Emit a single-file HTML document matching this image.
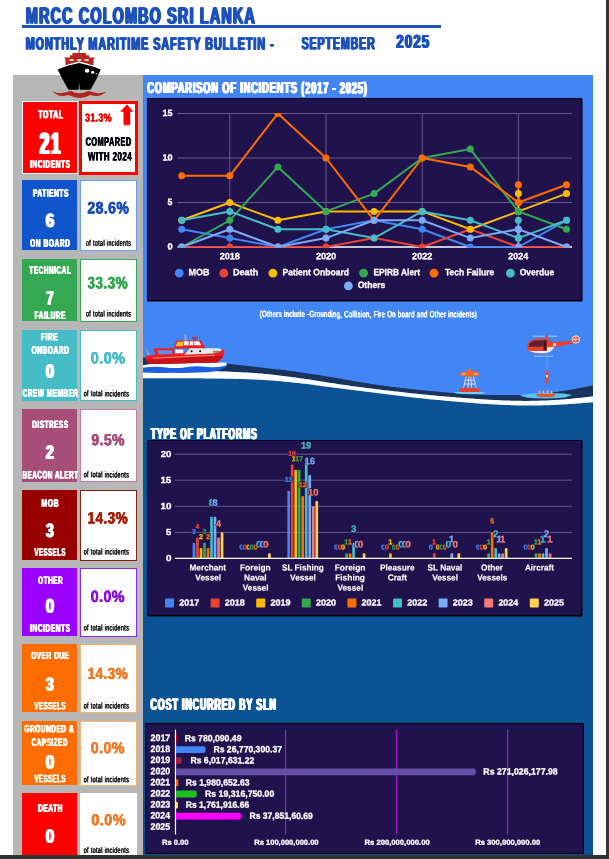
<!DOCTYPE html>
<html lang="en"><head><meta charset="utf-8"><title>MRCC Colombo Sri Lanka - Monthly Maritime Safety Bulletin</title>
<style>
html,body{margin:0;padding:0;background:#fff;}
body{width:609px;height:859px;position:relative;overflow:hidden;font-family:"Liberation Sans",sans-serif;}
.b{position:absolute;box-sizing:border-box;}
.dl{text-shadow:0.7px 0 0 #20124d,-0.7px 0 0 #20124d,0 0.7px 0 #20124d,0 -0.7px 0 #20124d,0.5px 0.5px 0 #20124d,-0.5px -0.5px 0 #20124d,0.5px -0.5px 0 #20124d,-0.5px 0.5px 0 #20124d;}
.t{position:absolute;left:0;top:0;white-space:nowrap;line-height:1;font-weight:700;transform-origin:0 0;}
svg{position:absolute;left:0;top:0;}
svg text{font-family:"Liberation Sans",sans-serif;font-weight:700;}
</style></head><body>
<div class="b" style="left:13.00px;top:75.00px;width:130.00px;height:780.00px;background:#b7b7b7;"></div>
<div class="b" style="left:143.00px;top:75.00px;width:450.00px;height:780.00px;background:#0b5394;"></div>
<div class="b" style="left:143.00px;top:75.00px;width:450.00px;height:320.00px;background:#4285f4;"></div>
<div class="b" style="left:143.00px;top:75.00px;width:450.00px;height:300.00px;background:#4285f4;"></div>
<div class="b" style="left:22.30px;top:25.00px;width:418.50px;height:3.00px;background:#1d52bd;"></div>
<div class="b" style="left:22.20px;top:101.20px;width:56.20px;height:72.80px;background:#ff0000;border:1px solid #fff;"></div>
<div class="b" style="left:79.40px;top:100.70px;width:58.60px;height:74.20px;background:#ffffff;border:3px solid #ff0000;"></div>
<div class="b" style="left:22.00px;top:180.00px;width:55.00px;height:70.00px;background:#1155cc;"></div>
<div class="b" style="left:80.00px;top:180.00px;width:57.00px;height:71.00px;background:#ffffff;border:1px solid #6d9eeb;"></div>
<div class="b" style="left:22.00px;top:258.50px;width:55.00px;height:62.10px;background:#34a853;"></div>
<div class="b" style="left:80.00px;top:258.50px;width:57.00px;height:63.20px;background:#ffffff;border:1px solid #34a853;"></div>
<div class="b" style="left:22.00px;top:330.00px;width:55.00px;height:70.50px;background:#46bdc6;"></div>
<div class="b" style="left:80.00px;top:330.00px;width:57.00px;height:71.00px;background:#ffffff;border:1px solid #46bdc6;"></div>
<div class="b" style="left:22.00px;top:409.20px;width:55.00px;height:72.40px;background:#a64d79;"></div>
<div class="b" style="left:80.00px;top:409.20px;width:57.00px;height:72.80px;background:#ffffff;border:1px solid #c27ba0;"></div>
<div class="b" style="left:22.00px;top:490.00px;width:55.00px;height:69.80px;background:#990000;"></div>
<div class="b" style="left:80.00px;top:490.00px;width:57.00px;height:70.50px;background:#ffffff;border:1px solid #85200c;"></div>
<div class="b" style="left:22.00px;top:568.00px;width:55.00px;height:67.90px;background:#9900ff;"></div>
<div class="b" style="left:80.00px;top:568.00px;width:57.00px;height:69.00px;background:#ffffff;border:1px solid #8e2be2;"></div>
<div class="b" style="left:22.00px;top:644.20px;width:55.00px;height:68.30px;background:#ff6d01;"></div>
<div class="b" style="left:80.00px;top:644.20px;width:57.00px;height:68.80px;background:#ffffff;border:1px solid #f6b26b;"></div>
<div class="b" style="left:22.00px;top:720.80px;width:55.00px;height:64.60px;background:#ff6d01;"></div>
<div class="b" style="left:80.00px;top:720.80px;width:57.00px;height:65.50px;background:#ffffff;border:1px solid #f6b26b;"></div>
<div class="b" style="left:22.00px;top:793.00px;width:55.00px;height:63.00px;background:#ff0000;"></div>
<div class="b" style="left:80.00px;top:793.00px;width:57.00px;height:63.00px;background:#ffffff;border:1px solid #ffffff;"></div>
<div class="b" style="left:146.80px;top:98.30px;width:435.00px;height:202.50px;background:#20124d;border:1px solid #000;border-top-color:#0a0626;border-left-color:#0a0626;box-shadow:0.5px 0.5px 0 #000;"></div>
<div class="b" style="left:146.60px;top:439.80px;width:435.00px;height:176.60px;background:#20124d;border:1px solid #000;border-top-color:#0a0626;border-left-color:#0a0626;box-shadow:0.5px 0.5px 0 #000;"></div>
<div class="b" style="left:144.60px;top:723.00px;width:439.00px;height:130.60px;background:#20124d;border:1px solid #000;"></div>
<svg width="609" height="859" viewBox="0 0 609 859"><polygon fill="#0b5394" points="143.0,378.2 145.0,378.2 147.0,378.2 149.0,378.2 151.0,378.2 153.0,378.2 155.0,378.2 157.0,378.2 159.0,378.2 161.0,378.2 163.0,378.2 165.0,378.2 167.0,378.2 169.0,378.2 171.0,378.2 173.0,378.2 175.0,378.2 177.0,378.2 179.0,378.2 181.0,378.2 183.0,378.2 185.0,378.2 187.0,378.2 189.0,378.2 191.0,378.2 193.0,378.2 195.0,378.3 197.0,378.3 199.0,378.3 201.0,378.3 203.0,378.3 205.0,378.4 207.0,378.4 209.0,378.4 211.0,378.4 213.0,378.5 215.0,378.5 217.0,378.5 219.0,378.6 221.0,378.6 223.0,378.6 225.0,378.7 227.0,378.7 229.0,378.7 231.0,378.8 233.0,378.8 235.0,378.9 237.0,378.9 239.0,378.9 241.0,379.0 243.0,379.0 245.0,379.1 247.0,379.2 249.0,379.2 251.0,379.3 253.0,379.4 255.0,379.5 257.0,379.6 259.0,379.7 261.0,379.8 263.0,379.9 265.0,380.0 267.0,380.2 269.0,380.3 271.0,380.4 273.0,380.6 275.0,380.8 277.0,380.9 279.0,381.1 281.0,381.3 283.0,381.5 285.0,381.7 287.0,381.9 289.0,382.1 291.0,382.3 293.0,382.5 295.0,382.7 297.0,382.9 299.0,383.1 301.0,383.4 303.0,383.6 305.0,383.8 307.0,384.1 309.0,384.3 311.0,384.6 313.0,384.8 315.0,385.1 317.0,385.4 319.0,385.6 321.0,385.9 323.0,386.2 325.0,386.4 327.0,386.7 329.0,387.0 331.0,387.2 333.0,387.5 335.0,387.8 337.0,388.0 339.0,388.3 341.0,388.5 343.0,388.8 345.0,389.0 347.0,389.3 349.0,389.6 351.0,389.8 353.0,390.1 355.0,390.3 357.0,390.5 359.0,390.8 361.0,391.0 363.0,391.3 365.0,391.5 367.0,391.8 369.0,392.0 371.0,392.3 373.0,392.5 375.0,392.8 377.0,393.0 379.0,393.3 381.0,393.5 383.0,393.8 385.0,394.0 387.0,394.3 389.0,394.5 391.0,394.8 393.0,395.0 395.0,395.3 397.0,395.5 399.0,395.8 401.0,396.0 403.0,396.2 405.0,396.5 407.0,396.7 409.0,397.0 411.0,397.2 413.0,397.4 415.0,397.7 417.0,397.9 419.0,398.1 421.0,398.3 423.0,398.5 425.0,398.7 427.0,399.0 429.0,399.2 431.0,399.4 433.0,399.6 435.0,399.7 437.0,399.9 439.0,400.1 441.0,400.3 443.0,400.5 445.0,400.7 447.0,400.9 449.0,401.1 451.0,401.2 453.0,401.4 455.0,401.6 457.0,401.8 459.0,401.9 461.0,402.1 463.0,402.3 465.0,402.5 467.0,402.6 469.0,402.8 471.0,402.9 473.0,403.1 475.0,403.2 477.0,403.4 479.0,403.5 481.0,403.7 483.0,403.8 485.0,403.9 487.0,404.1 489.0,404.2 491.0,404.3 493.0,404.4 495.0,404.5 497.0,404.6 499.0,404.7 501.0,404.8 503.0,404.9 505.0,405.0 507.0,405.1 509.0,405.1 511.0,405.2 513.0,405.3 515.0,405.3 517.0,405.4 519.0,405.4 521.0,405.4 523.0,405.5 525.0,405.5 527.0,405.5 529.0,405.5 531.0,405.5 533.0,405.5 535.0,405.5 537.0,405.5 539.0,405.4 541.0,405.4 543.0,405.3 545.0,405.3 547.0,405.2 549.0,405.2 551.0,405.1 553.0,405.0 555.0,404.9 557.0,404.8 559.0,404.7 561.0,404.6 563.0,404.5 565.0,404.4 567.0,404.2 569.0,404.1 571.0,404.0 573.0,403.8 575.0,403.7 577.0,403.5 579.0,403.4 581.0,403.2 583.0,403.0 585.0,402.9 587.0,402.7 589.0,402.5 591.0,402.4 593.0,402.2 593,412 143,412"/>
<polygon fill="#19335c" points="143.0,357.5 145.0,357.6 147.0,357.7 149.0,357.8 151.0,357.9 153.0,358.0 155.0,358.1 157.0,358.2 159.0,358.3 161.0,358.4 163.0,358.5 165.0,358.6 167.0,358.7 169.0,358.8 171.0,358.9 173.0,359.0 175.0,359.1 177.0,359.2 179.0,359.4 181.0,359.5 183.0,359.6 185.0,359.8 187.0,359.9 189.0,360.1 191.0,360.2 193.0,360.4 195.0,360.6 197.0,360.7 199.0,360.9 201.0,361.1 203.0,361.3 205.0,361.5 207.0,361.7 209.0,361.9 211.0,362.1 213.0,362.3 215.0,362.5 217.0,362.7 219.0,362.9 221.0,363.1 223.0,363.3 225.0,363.5 227.0,363.7 229.0,363.9 231.0,364.1 233.0,364.4 235.0,364.6 237.0,364.8 239.0,365.0 241.0,365.2 243.0,365.5 245.0,365.7 247.0,365.9 249.0,366.1 251.0,366.4 253.0,366.6 255.0,366.8 257.0,367.1 259.0,367.3 261.0,367.5 263.0,367.7 265.0,368.0 267.0,368.2 269.0,368.4 271.0,368.7 273.0,368.9 275.0,369.1 277.0,369.4 279.0,369.6 281.0,369.8 283.0,370.1 285.0,370.3 287.0,370.6 289.0,370.8 291.0,371.1 293.0,371.3 295.0,371.6 297.0,371.9 299.0,372.1 301.0,372.4 303.0,372.7 305.0,373.0 307.0,373.3 309.0,373.6 311.0,373.9 313.0,374.2 315.0,374.5 317.0,374.8 319.0,375.1 321.0,375.4 323.0,375.8 325.0,376.1 327.0,376.4 329.0,376.8 331.0,377.1 333.0,377.4 335.0,377.8 337.0,378.1 339.0,378.5 341.0,378.8 343.0,379.2 345.0,379.5 347.0,379.9 349.0,380.2 351.0,380.6 353.0,380.9 355.0,381.3 357.0,381.6 359.0,382.0 361.0,382.3 363.0,382.7 365.0,383.0 367.0,383.3 369.0,383.6 371.0,383.9 373.0,384.2 375.0,384.5 377.0,384.8 379.0,385.1 381.0,385.4 383.0,385.6 385.0,385.9 387.0,386.1 389.0,386.4 391.0,386.7 393.0,386.9 395.0,387.1 397.0,387.4 399.0,387.6 401.0,387.9 403.0,388.1 405.0,388.3 407.0,388.6 409.0,388.8 411.0,389.0 413.0,389.3 415.0,389.5 417.0,389.7 419.0,389.9 421.0,390.1 423.0,390.3 425.0,390.5 427.0,390.7 429.0,390.9 431.0,391.1 433.0,391.3 435.0,391.5 437.0,391.6 439.0,391.8 441.0,392.0 443.0,392.2 445.0,392.3 447.0,392.5 449.0,392.7 451.0,392.8 453.0,393.0 455.0,393.2 457.0,393.3 459.0,393.5 461.0,393.6 463.0,393.8 465.0,393.9 467.0,394.0 469.0,394.1 471.0,394.3 473.0,394.4 475.0,394.5 477.0,394.6 479.0,394.7 481.0,394.8 483.0,394.8 485.0,394.9 487.0,395.0 489.0,395.0 491.0,395.1 493.0,395.1 495.0,395.2 497.0,395.2 499.0,395.2 501.0,395.2 503.0,395.2 505.0,395.2 507.0,395.2 509.0,395.2 511.0,395.2 513.0,395.2 515.0,395.1 517.0,395.1 519.0,395.0 521.0,395.0 523.0,394.9 525.0,394.8 527.0,394.7 529.0,394.6 531.0,394.5 533.0,394.3 535.0,394.2 537.0,394.0 539.0,393.9 541.0,393.7 543.0,393.5 545.0,393.3 547.0,393.1 549.0,392.9 551.0,392.7 553.0,392.4 555.0,392.1 557.0,391.9 559.0,391.6 561.0,391.3 563.0,391.0 565.0,390.7 567.0,390.3 569.0,390.0 571.0,389.6 573.0,389.3 575.0,388.9 577.0,388.5 579.0,388.1 581.0,387.8 583.0,387.4 585.0,387.0 587.0,386.6 589.0,386.2 591.0,385.8 593.0,385.4 593.0,396.4 591.0,396.6 589.0,396.8 587.0,397.0 585.0,397.3 583.0,397.5 581.0,397.7 579.0,397.9 577.0,398.1 575.0,398.3 573.0,398.5 571.0,398.7 569.0,398.9 567.0,399.0 565.0,399.2 563.0,399.4 561.0,399.5 559.0,399.7 557.0,399.8 555.0,400.0 553.0,400.1 551.0,400.2 549.0,400.3 547.0,400.4 545.0,400.5 543.0,400.5 541.0,400.6 539.0,400.7 537.0,400.7 535.0,400.8 533.0,400.8 531.0,400.8 529.0,400.9 527.0,400.9 525.0,400.9 523.0,400.9 521.0,400.8 519.0,400.8 517.0,400.8 515.0,400.7 513.0,400.7 511.0,400.7 509.0,400.6 507.0,400.5 505.0,400.5 503.0,400.4 501.0,400.3 499.0,400.2 497.0,400.1 495.0,400.0 493.0,399.9 491.0,399.8 489.0,399.7 487.0,399.6 485.0,399.4 483.0,399.3 481.0,399.2 479.0,399.0 477.0,398.9 475.0,398.8 473.0,398.6 471.0,398.5 469.0,398.3 467.0,398.2 465.0,398.0 463.0,397.9 461.0,397.7 459.0,397.5 457.0,397.4 455.0,397.2 453.0,397.1 451.0,396.9 449.0,396.7 447.0,396.6 445.0,396.4 443.0,396.2 441.0,396.1 439.0,395.9 437.0,395.7 435.0,395.5 433.0,395.3 431.0,395.2 429.0,395.0 427.0,394.8 425.0,394.6 423.0,394.4 421.0,394.2 419.0,394.0 417.0,393.8 415.0,393.6 413.0,393.4 411.0,393.2 409.0,392.9 407.0,392.7 405.0,392.5 403.0,392.3 401.0,392.0 399.0,391.8 397.0,391.6 395.0,391.4 393.0,391.1 391.0,390.9 389.0,390.6 387.0,390.4 385.0,390.2 383.0,389.9 381.0,389.7 379.0,389.5 377.0,389.2 375.0,389.0 373.0,388.7 371.0,388.5 369.0,388.2 367.0,388.0 365.0,387.7 363.0,387.5 361.0,387.2 359.0,386.9 357.0,386.7 355.0,386.4 353.0,386.2 351.0,385.9 349.0,385.6 347.0,385.3 345.0,385.0 343.0,384.8 341.0,384.5 339.0,384.2 337.0,383.9 335.0,383.6 333.0,383.3 331.0,383.0 329.0,382.7 327.0,382.4 325.0,382.0 323.0,381.7 321.0,381.4 319.0,381.1 317.0,380.8 315.0,380.5 313.0,380.2 311.0,379.8 309.0,379.5 307.0,379.2 305.0,378.9 303.0,378.6 301.0,378.4 299.0,378.1 297.0,377.8 295.0,377.5 293.0,377.2 291.0,377.0 289.0,376.7 287.0,376.4 285.0,376.2 283.0,375.9 281.0,375.7 279.0,375.4 277.0,375.2 275.0,375.0 273.0,374.7 271.0,374.5 269.0,374.3 267.0,374.1 265.0,373.9 263.0,373.7 261.0,373.5 259.0,373.4 257.0,373.2 255.0,373.1 253.0,372.9 251.0,372.8 249.0,372.7 247.0,372.6 245.0,372.5 243.0,372.4 241.0,372.3 239.0,372.2 237.0,372.1 235.0,372.0 233.0,371.9 231.0,371.8 229.0,371.7 227.0,371.6 225.0,371.6 223.0,371.5 221.0,371.4 219.0,371.3 217.0,371.2 215.0,371.2 213.0,371.1 211.0,371.0 209.0,371.0 207.0,370.9 205.0,370.9 203.0,370.8 201.0,370.8 199.0,370.7 197.0,370.7 195.0,370.7 193.0,370.6 191.0,370.6 189.0,370.6 187.0,370.6 185.0,370.6 183.0,370.6 181.0,370.6 179.0,370.6 177.0,370.6 175.0,370.6 173.0,370.6 171.0,370.6 169.0,370.6 167.0,370.6 165.0,370.6 163.0,370.6 161.0,370.6 159.0,370.6 157.0,370.7 155.0,370.7 153.0,370.7 151.0,370.7 149.0,370.7 147.0,370.7 145.0,370.7 143.0,370.7"/>
<polygon fill="#ffffff" points="143.0,370.7 145.0,370.7 147.0,370.7 149.0,370.7 151.0,370.7 153.0,370.7 155.0,370.7 157.0,370.7 159.0,370.6 161.0,370.6 163.0,370.6 165.0,370.6 167.0,370.6 169.0,370.6 171.0,370.6 173.0,370.6 175.0,370.6 177.0,370.6 179.0,370.6 181.0,370.6 183.0,370.6 185.0,370.6 187.0,370.6 189.0,370.6 191.0,370.6 193.0,370.6 195.0,370.7 197.0,370.7 199.0,370.7 201.0,370.8 203.0,370.8 205.0,370.9 207.0,370.9 209.0,371.0 211.0,371.0 213.0,371.1 215.0,371.2 217.0,371.2 219.0,371.3 221.0,371.4 223.0,371.5 225.0,371.6 227.0,371.6 229.0,371.7 231.0,371.8 233.0,371.9 235.0,372.0 237.0,372.1 239.0,372.2 241.0,372.3 243.0,372.4 245.0,372.5 247.0,372.6 249.0,372.7 251.0,372.8 253.0,372.9 255.0,373.1 257.0,373.2 259.0,373.4 261.0,373.5 263.0,373.7 265.0,373.9 267.0,374.1 269.0,374.3 271.0,374.5 273.0,374.7 275.0,375.0 277.0,375.2 279.0,375.4 281.0,375.7 283.0,375.9 285.0,376.2 287.0,376.4 289.0,376.7 291.0,377.0 293.0,377.2 295.0,377.5 297.0,377.8 299.0,378.1 301.0,378.4 303.0,378.6 305.0,378.9 307.0,379.2 309.0,379.5 311.0,379.8 313.0,380.2 315.0,380.5 317.0,380.8 319.0,381.1 321.0,381.4 323.0,381.7 325.0,382.0 327.0,382.4 329.0,382.7 331.0,383.0 333.0,383.3 335.0,383.6 337.0,383.9 339.0,384.2 341.0,384.5 343.0,384.8 345.0,385.0 347.0,385.3 349.0,385.6 351.0,385.9 353.0,386.2 355.0,386.4 357.0,386.7 359.0,386.9 361.0,387.2 363.0,387.5 365.0,387.7 367.0,388.0 369.0,388.2 371.0,388.5 373.0,388.7 375.0,389.0 377.0,389.2 379.0,389.5 381.0,389.7 383.0,389.9 385.0,390.2 387.0,390.4 389.0,390.6 391.0,390.9 393.0,391.1 395.0,391.4 397.0,391.6 399.0,391.8 401.0,392.0 403.0,392.3 405.0,392.5 407.0,392.7 409.0,392.9 411.0,393.2 413.0,393.4 415.0,393.6 417.0,393.8 419.0,394.0 421.0,394.2 423.0,394.4 425.0,394.6 427.0,394.8 429.0,395.0 431.0,395.2 433.0,395.3 435.0,395.5 437.0,395.7 439.0,395.9 441.0,396.1 443.0,396.2 445.0,396.4 447.0,396.6 449.0,396.7 451.0,396.9 453.0,397.1 455.0,397.2 457.0,397.4 459.0,397.5 461.0,397.7 463.0,397.9 465.0,398.0 467.0,398.2 469.0,398.3 471.0,398.5 473.0,398.6 475.0,398.8 477.0,398.9 479.0,399.0 481.0,399.2 483.0,399.3 485.0,399.4 487.0,399.6 489.0,399.7 491.0,399.8 493.0,399.9 495.0,400.0 497.0,400.1 499.0,400.2 501.0,400.3 503.0,400.4 505.0,400.5 507.0,400.5 509.0,400.6 511.0,400.7 513.0,400.7 515.0,400.7 517.0,400.8 519.0,400.8 521.0,400.8 523.0,400.9 525.0,400.9 527.0,400.9 529.0,400.9 531.0,400.8 533.0,400.8 535.0,400.8 537.0,400.7 539.0,400.7 541.0,400.6 543.0,400.5 545.0,400.5 547.0,400.4 549.0,400.3 551.0,400.2 553.0,400.1 555.0,400.0 557.0,399.8 559.0,399.7 561.0,399.5 563.0,399.4 565.0,399.2 567.0,399.0 569.0,398.9 571.0,398.7 573.0,398.5 575.0,398.3 577.0,398.1 579.0,397.9 581.0,397.7 583.0,397.5 585.0,397.3 587.0,397.0 589.0,396.8 591.0,396.6 593.0,396.4 593.0,402.2 591.0,402.4 589.0,402.5 587.0,402.7 585.0,402.9 583.0,403.0 581.0,403.2 579.0,403.4 577.0,403.5 575.0,403.7 573.0,403.8 571.0,404.0 569.0,404.1 567.0,404.2 565.0,404.4 563.0,404.5 561.0,404.6 559.0,404.7 557.0,404.8 555.0,404.9 553.0,405.0 551.0,405.1 549.0,405.2 547.0,405.2 545.0,405.3 543.0,405.3 541.0,405.4 539.0,405.4 537.0,405.5 535.0,405.5 533.0,405.5 531.0,405.5 529.0,405.5 527.0,405.5 525.0,405.5 523.0,405.5 521.0,405.4 519.0,405.4 517.0,405.4 515.0,405.3 513.0,405.3 511.0,405.2 509.0,405.1 507.0,405.1 505.0,405.0 503.0,404.9 501.0,404.8 499.0,404.7 497.0,404.6 495.0,404.5 493.0,404.4 491.0,404.3 489.0,404.2 487.0,404.1 485.0,403.9 483.0,403.8 481.0,403.7 479.0,403.5 477.0,403.4 475.0,403.2 473.0,403.1 471.0,402.9 469.0,402.8 467.0,402.6 465.0,402.5 463.0,402.3 461.0,402.1 459.0,401.9 457.0,401.8 455.0,401.6 453.0,401.4 451.0,401.2 449.0,401.1 447.0,400.9 445.0,400.7 443.0,400.5 441.0,400.3 439.0,400.1 437.0,399.9 435.0,399.7 433.0,399.6 431.0,399.4 429.0,399.2 427.0,399.0 425.0,398.7 423.0,398.5 421.0,398.3 419.0,398.1 417.0,397.9 415.0,397.7 413.0,397.4 411.0,397.2 409.0,397.0 407.0,396.7 405.0,396.5 403.0,396.2 401.0,396.0 399.0,395.8 397.0,395.5 395.0,395.3 393.0,395.0 391.0,394.8 389.0,394.5 387.0,394.3 385.0,394.0 383.0,393.8 381.0,393.5 379.0,393.3 377.0,393.0 375.0,392.8 373.0,392.5 371.0,392.3 369.0,392.0 367.0,391.8 365.0,391.5 363.0,391.3 361.0,391.0 359.0,390.8 357.0,390.5 355.0,390.3 353.0,390.1 351.0,389.8 349.0,389.6 347.0,389.3 345.0,389.0 343.0,388.8 341.0,388.5 339.0,388.3 337.0,388.0 335.0,387.8 333.0,387.5 331.0,387.2 329.0,387.0 327.0,386.7 325.0,386.4 323.0,386.2 321.0,385.9 319.0,385.6 317.0,385.4 315.0,385.1 313.0,384.8 311.0,384.6 309.0,384.3 307.0,384.1 305.0,383.8 303.0,383.6 301.0,383.4 299.0,383.1 297.0,382.9 295.0,382.7 293.0,382.5 291.0,382.3 289.0,382.1 287.0,381.9 285.0,381.7 283.0,381.5 281.0,381.3 279.0,381.1 277.0,380.9 275.0,380.8 273.0,380.6 271.0,380.4 269.0,380.3 267.0,380.2 265.0,380.0 263.0,379.9 261.0,379.8 259.0,379.7 257.0,379.6 255.0,379.5 253.0,379.4 251.0,379.3 249.0,379.2 247.0,379.2 245.0,379.1 243.0,379.0 241.0,379.0 239.0,378.9 237.0,378.9 235.0,378.9 233.0,378.8 231.0,378.8 229.0,378.7 227.0,378.7 225.0,378.7 223.0,378.6 221.0,378.6 219.0,378.6 217.0,378.5 215.0,378.5 213.0,378.5 211.0,378.4 209.0,378.4 207.0,378.4 205.0,378.4 203.0,378.3 201.0,378.3 199.0,378.3 197.0,378.3 195.0,378.3 193.0,378.2 191.0,378.2 189.0,378.2 187.0,378.2 185.0,378.2 183.0,378.2 181.0,378.2 179.0,378.2 177.0,378.2 175.0,378.2 173.0,378.2 171.0,378.2 169.0,378.2 167.0,378.2 165.0,378.2 163.0,378.2 161.0,378.2 159.0,378.2 157.0,378.2 155.0,378.2 153.0,378.2 151.0,378.2 149.0,378.2 147.0,378.2 145.0,378.2 143.0,378.2"/>
<!-- top ship icon -->
<g id="ship">
<rect x="78.6" y="49.5" width="1" height="4" fill="#b3261e"/>
<path d="M72.5 53h13.5v2.2h3.2v2.3h5.6l-1.3 2.2v5.3H65.5v-5.3l-1.3-2.2h5.6v-2.3h2.7z" fill="#b3261e"/>
<rect x="69.5" y="59.3" width="4.2" height="1.5" fill="#fff"/><rect x="77" y="59.3" width="4.2" height="1.5" fill="#fff"/><rect x="84.5" y="59.3" width="4.2" height="1.5" fill="#fff"/>
<path d="M57 69.6 Q68 64.6 79.1 62.4 Q90 64.6 101.4 69.6" fill="#fff" stroke="#fff" stroke-width="1.6"/>
<path d="M57.6 69.6 Q68 65 79.1 63 Q90 65 100.8 69.6 Q97 79 90.6 89.8 H68.4 Q62 79 57.6 69.6z" fill="#000"/>
<path d="M79.2 82 L79.8 90 H78.6z" fill="#b7b7b7"/>
<ellipse cx="87.2" cy="70.8" rx="2.3" ry="2" fill="#fff"/><ellipse cx="92.7" cy="72.3" rx="1.7" ry="1.5" fill="#fff"/><circle cx="96.3" cy="73.6" r="0.7" fill="#fff"/>
<path d="M52.5 91.3 q7 3.4 14 0.8 q3 -1.2 4.5 -1.2 q8.5 4.6 17 0 q1.5 0 4.5 1.2 q7 2.6 14 -0.8 q-6 7 -16 3.6 q-10.5 6 -22 0 q-10 3.4 -16 -3.6z" fill="#b3261e"/>
</g>
<!-- up arrow -->
<rect x="123.6" y="124" width="6.6" height="2.2" fill="#ffb3b3"/><path d="M126.9 104.4 L133.4 111.7 H130.2 V124.8 H123.5 V111.7 H120.2z" fill="#ff0000"/>
<!-- rescue boat -->
<g id="boat">
<path d="M143 365 L226 364.5 L225.5 367.4 Q215 372.6 200 372.6 Q185 373.2 170 372.8 Q155 373.4 143 372.6z" fill="#1c5fe0"/>
<path d="M143 365.2 Q150 363.3 160 363.8 L226 362.6 L227 365.3 Q218 368 208 367 Q196 365.6 186 367.2 Q176 368.8 166 367.4 Q154 365.8 143 367.8z" fill="#fff"/>
<path d="M145.3 346.5 L150 354.8 L147.5 355z" fill="#9aa" />
<path d="M146.5 355.5 L224 349.6 Q225 352 224 354.5 Q222 360 216.5 362.5 L151 364 Q146 362.5 145.5 358z" fill="#ee1c24"/>
<path d="M146 359.5 L223 355.5 Q221 360.5 216.5 362.5 L151 364 Q147 363 146 359.5z" fill="#c8101a"/>
<path d="M153 358.2 L215 355.2" stroke="#ffd9a0" stroke-width="0.6" fill="none"/>
<path d="M153.5 348.2 H174 V355 L156 356z" fill="#ee1c24"/>
<path d="M157 350.3 H172 V354 L159 354.6z" fill="#5b8fe8"/>
<path d="M173.5 348.6 L176.5 340.6 H201 L205.5 348.6z" fill="#ee1c24"/>
<path d="M184.3 354.8 L190 348.3 H219 Q222 349.3 222 350.5 L213 353.6z" fill="#e6e6e6"/>
<rect x="175.3" y="349.5" width="8" height="3.8" fill="#f3f3f3"/>
<path d="M175.5 346.3 L177.3 341.7 H183 V346.3z" fill="#f6c12c"/>
<rect x="183.7" y="341.3" width="5" height="4" fill="#fff"/><rect x="189.7" y="341.3" width="3.6" height="4" fill="#fff"/><path d="M194.2 341.3 H199 L201.3 345.3 H194.2z" fill="#fff"/>
<circle cx="191.6" cy="351.3" r="1" fill="#111"/><circle cx="200.1" cy="351.3" r="1" fill="#111"/>
<rect x="213" y="350.8" width="6" height="1.8" fill="#8a8a7a"/>
<path d="M184.2 333.3 L186.8 340.6 H185.2z" fill="#c9d3d8"/><rect x="185.5" y="334" width="0.9" height="6.6" fill="#9aa"/>
<rect x="192" y="337.2" width="6" height="1.3" fill="#d01818"/><rect x="194.5" y="338" width="1" height="2.6" fill="#d01818"/>
</g>
<!-- buoy -->
<g id="buoy">
<ellipse cx="469.8" cy="392.7" rx="15.5" ry="1.5" fill="#6fd0f5"/>
<path d="M459.4 391.9 Q459.4 387.8 463 387.8 H476 Q479.5 387.8 479.5 391.9z" fill="#e8402a"/>
<path d="M463.5 387.8 L466 376.5 M476 387.8 L473.5 376.5 M468 387.8 L468.8 376.5 M471.6 387.8 L470.8 376.5 M464.3 384 H475.3 M465.2 380.2 H474.4" stroke="#e4e8ee" stroke-width="0.9" fill="none"/>
<ellipse cx="469.8" cy="374" rx="10.3" ry="2.7" fill="#f0642a"/>
<path d="M467.3 372 L469.8 367.2 L472.3 372z" fill="#f0642a"/>
<ellipse cx="463.5" cy="374" rx="2" ry="1.2" fill="#f7a070"/><ellipse cx="476" cy="374" rx="2" ry="1.2" fill="#f7a070"/>
</g>
<!-- helicopter -->
<g id="heli">
<path d="M532.8 336.2 H545 M548 336.2 H557.5" stroke="#b9d3f7" stroke-width="0.9"/>
<rect x="545.2" y="335.4" width="2.6" height="3.2" fill="#e8402a"/>
<path d="M552 342.2 L572 341 L573 343.5 L553 347.5z" fill="#e8402a"/>
<circle cx="575.9" cy="339.4" r="4.2" fill="#f3d9d0"/><circle cx="575.9" cy="339.4" r="3" fill="#e8402a"/><path d="M573 339.4h5.8M575.9 336.5v5.8" stroke="#fff" stroke-width="0.8"/>
<path d="M527 347 Q527 339.2 540 338.6 Q551 338.3 554.2 344 Q555 350 548 352.5 Q538 354.5 530 351.8 Q527 350.5 527 347z" fill="#e8402a"/>
<path d="M528.5 350.8 Q538 354.8 548 352.5 Q553.5 350.5 554 346.5 L547 347.5 V351 H535z" fill="#e9eef5"/>
<path d="M529.5 343.5 Q531 341 535 340.6 L543.5 340.3 V346.8 H529z" fill="#5a2230"/>
<rect x="543.5" y="340.3" width="3" height="10" fill="#3a1420"/>
<rect x="553" y="343" width="3.2" height="3" rx="0.8" fill="#c9d3e6"/>
<path d="M534 356.2 H553" stroke="#b9d3f7" stroke-width="0.8"/>
<path d="M546.9 353 V372" stroke="#7fb0f5" stroke-width="0.6"/>
<path d="M545.6 372 L546.9 370 L548.2 372 L548.6 379 L547.6 384 H546.2 L545.2 379z" fill="#e8402a"/><rect x="546" y="375" width="1.8" height="2.4" fill="#f5e6e0"/>
<path d="M519.7 395.5 Q530 392.7 545 392.9 Q566 392.7 572.2 395 L565 397.6 Q545 399.2 527 397.8z" fill="#57c6ee"/>
<path d="M536 393.8 H555.8 Q555 396.8 552 396.9 H540 Q537 396.8 536 393.8z" fill="#e8502a"/>
<path d="M539.5 393.8 v-3 M543.5 393.8 v-3.5 M547.5 393.8 v-3.5 M551.5 393.8 v-3" stroke="#e9b48a" stroke-width="1.6"/>
</g>

<line x1="177.5" x2="572" y1="202.5" y2="202.5" stroke="#655a8c" stroke-width="1"/>
<line x1="177.5" x2="572" y1="158.0" y2="158.0" stroke="#655a8c" stroke-width="1"/>
<line x1="177.5" x2="572" y1="113.5" y2="113.5" stroke="#655a8c" stroke-width="1"/>
<line x1="229.8" x2="229.8" y1="113.5" y2="247" stroke="#655a8c" stroke-width="1"/>
<line x1="326.0" x2="326.0" y1="113.5" y2="247" stroke="#655a8c" stroke-width="1"/>
<line x1="422.2" x2="422.2" y1="113.5" y2="247" stroke="#655a8c" stroke-width="1"/>
<line x1="518.4" x2="518.4" y1="113.5" y2="247" stroke="#655a8c" stroke-width="1"/>
<line x1="177.5" x2="572" y1="247" y2="247" stroke="#fff" stroke-width="1.4"/>
<clipPath id="lc"><rect x="176" y="113" width="398" height="134.8"/></clipPath><g clip-path="url(#lc)">
<polyline fill="none" stroke="#4285f4" stroke-width="2" stroke-linejoin="round" points="181.7,229.2 229.8,238.1 277.9,247.0 326.0,229.2 374.1,220.3 422.2,229.2 470.3,247.0 518.4,247.0 566.5,220.3"/>
<polyline fill="none" stroke="#ea4335" stroke-width="2" stroke-linejoin="round" points="181.7,247.0 229.8,247.0 277.9,247.0 326.0,247.0 374.1,238.1 422.2,247.0 470.3,229.2 518.4,247.0 566.5,247.0"/>
<polyline fill="none" stroke="#fbbc04" stroke-width="2" stroke-linejoin="round" points="181.7,220.3 229.8,202.5 277.9,220.3 326.0,211.4 374.1,211.4 422.2,211.4 470.3,229.2 518.4,211.4 518.4,193.6 518.4,211.4 566.5,193.6"/>
<polyline fill="none" stroke="#34a853" stroke-width="2" stroke-linejoin="round" points="181.7,247.0 229.8,220.3 277.9,166.9 326.0,211.4 374.1,193.6 422.2,158.0 470.3,149.1 518.4,211.4 566.5,229.2"/>
<polyline fill="none" stroke="#ff6d01" stroke-width="2" stroke-linejoin="round" points="181.7,175.8 229.8,175.8 277.9,113.5 326.0,158.0 374.1,220.3 422.2,158.0 470.3,166.9 518.4,202.5 518.4,184.7 518.4,202.5 566.5,184.7"/>
<polyline fill="none" stroke="#46bdc6" stroke-width="2" stroke-linejoin="round" points="181.7,220.3 229.8,211.4 277.9,229.2 326.0,229.2 374.1,238.1 422.2,211.4 470.3,220.3 518.4,238.1 518.4,220.3 518.4,238.1 566.5,220.3"/>
<polyline fill="none" stroke="#7baaf7" stroke-width="2" stroke-linejoin="round" points="181.7,247.0 229.8,229.2 277.9,247.0 326.0,238.1 374.1,220.3 422.2,220.3 470.3,238.1 518.4,229.2 518.4,247.0 518.4,229.2 566.5,247.0"/>
<circle cx="181.7" cy="229.2" r="3.5" fill="#4285f4"/>
<circle cx="229.8" cy="238.1" r="3.5" fill="#4285f4"/>
<circle cx="277.9" cy="247.0" r="3.5" fill="#4285f4"/>
<circle cx="326.0" cy="229.2" r="3.5" fill="#4285f4"/>
<circle cx="374.1" cy="220.3" r="3.5" fill="#4285f4"/>
<circle cx="422.2" cy="229.2" r="3.5" fill="#4285f4"/>
<circle cx="470.3" cy="247.0" r="3.5" fill="#4285f4"/>
<circle cx="518.4" cy="247.0" r="3.5" fill="#4285f4"/>
<circle cx="566.5" cy="220.3" r="3.5" fill="#4285f4"/>
<circle cx="181.7" cy="247.0" r="3.5" fill="#ea4335"/>
<circle cx="229.8" cy="247.0" r="3.5" fill="#ea4335"/>
<circle cx="277.9" cy="247.0" r="3.5" fill="#ea4335"/>
<circle cx="326.0" cy="247.0" r="3.5" fill="#ea4335"/>
<circle cx="374.1" cy="238.1" r="3.5" fill="#ea4335"/>
<circle cx="422.2" cy="247.0" r="3.5" fill="#ea4335"/>
<circle cx="470.3" cy="229.2" r="3.5" fill="#ea4335"/>
<circle cx="518.4" cy="247.0" r="3.5" fill="#ea4335"/>
<circle cx="566.5" cy="247.0" r="3.5" fill="#ea4335"/>
<circle cx="181.7" cy="220.3" r="3.5" fill="#fbbc04"/>
<circle cx="229.8" cy="202.5" r="3.5" fill="#fbbc04"/>
<circle cx="277.9" cy="220.3" r="3.5" fill="#fbbc04"/>
<circle cx="326.0" cy="211.4" r="3.5" fill="#fbbc04"/>
<circle cx="374.1" cy="211.4" r="3.5" fill="#fbbc04"/>
<circle cx="422.2" cy="211.4" r="3.5" fill="#fbbc04"/>
<circle cx="470.3" cy="229.2" r="3.5" fill="#fbbc04"/>
<circle cx="518.4" cy="211.4" r="3.5" fill="#fbbc04"/>
<circle cx="518.4" cy="193.6" r="3.5" fill="#fbbc04"/>
<circle cx="518.4" cy="211.4" r="3.5" fill="#fbbc04"/>
<circle cx="566.5" cy="193.6" r="3.5" fill="#fbbc04"/>
<circle cx="181.7" cy="247.0" r="3.5" fill="#34a853"/>
<circle cx="229.8" cy="220.3" r="3.5" fill="#34a853"/>
<circle cx="277.9" cy="166.9" r="3.5" fill="#34a853"/>
<circle cx="326.0" cy="211.4" r="3.5" fill="#34a853"/>
<circle cx="374.1" cy="193.6" r="3.5" fill="#34a853"/>
<circle cx="422.2" cy="158.0" r="3.5" fill="#34a853"/>
<circle cx="470.3" cy="149.1" r="3.5" fill="#34a853"/>
<circle cx="518.4" cy="211.4" r="3.5" fill="#34a853"/>
<circle cx="566.5" cy="229.2" r="3.5" fill="#34a853"/>
<circle cx="181.7" cy="175.8" r="3.5" fill="#ff6d01"/>
<circle cx="229.8" cy="175.8" r="3.5" fill="#ff6d01"/>
<circle cx="277.9" cy="113.5" r="3.5" fill="#ff6d01"/>
<circle cx="326.0" cy="158.0" r="3.5" fill="#ff6d01"/>
<circle cx="374.1" cy="220.3" r="3.5" fill="#ff6d01"/>
<circle cx="422.2" cy="158.0" r="3.5" fill="#ff6d01"/>
<circle cx="470.3" cy="166.9" r="3.5" fill="#ff6d01"/>
<circle cx="518.4" cy="202.5" r="3.5" fill="#ff6d01"/>
<circle cx="518.4" cy="184.7" r="3.5" fill="#ff6d01"/>
<circle cx="518.4" cy="202.5" r="3.5" fill="#ff6d01"/>
<circle cx="566.5" cy="184.7" r="3.5" fill="#ff6d01"/>
<circle cx="181.7" cy="220.3" r="3.5" fill="#46bdc6"/>
<circle cx="229.8" cy="211.4" r="3.5" fill="#46bdc6"/>
<circle cx="277.9" cy="229.2" r="3.5" fill="#46bdc6"/>
<circle cx="326.0" cy="229.2" r="3.5" fill="#46bdc6"/>
<circle cx="374.1" cy="238.1" r="3.5" fill="#46bdc6"/>
<circle cx="422.2" cy="211.4" r="3.5" fill="#46bdc6"/>
<circle cx="470.3" cy="220.3" r="3.5" fill="#46bdc6"/>
<circle cx="518.4" cy="238.1" r="3.5" fill="#46bdc6"/>
<circle cx="518.4" cy="220.3" r="3.5" fill="#46bdc6"/>
<circle cx="518.4" cy="238.1" r="3.5" fill="#46bdc6"/>
<circle cx="566.5" cy="220.3" r="3.5" fill="#46bdc6"/>
<circle cx="181.7" cy="247.0" r="3.5" fill="#7baaf7"/>
<circle cx="229.8" cy="229.2" r="3.5" fill="#7baaf7"/>
<circle cx="277.9" cy="247.0" r="3.5" fill="#7baaf7"/>
<circle cx="326.0" cy="238.1" r="3.5" fill="#7baaf7"/>
<circle cx="374.1" cy="220.3" r="3.5" fill="#7baaf7"/>
<circle cx="422.2" cy="220.3" r="3.5" fill="#7baaf7"/>
<circle cx="470.3" cy="238.1" r="3.5" fill="#7baaf7"/>
<circle cx="518.4" cy="229.2" r="3.5" fill="#7baaf7"/>
<circle cx="518.4" cy="247.0" r="3.5" fill="#7baaf7"/>
<circle cx="518.4" cy="229.2" r="3.5" fill="#7baaf7"/>
<circle cx="566.5" cy="247.0" r="3.5" fill="#7baaf7"/>
</g>
<circle cx="179.3" cy="273.2" r="4.4" fill="#4285f4"/>
<circle cx="223.8" cy="273.2" r="4.4" fill="#ea4335"/>
<circle cx="272.9" cy="273.2" r="4.4" fill="#fbbc04"/>
<circle cx="363.6" cy="273.2" r="4.4" fill="#34a853"/>
<circle cx="434" cy="273.2" r="4.4" fill="#ff6d01"/>
<circle cx="510.4" cy="273.2" r="4.4" fill="#46bdc6"/>
<circle cx="348.4" cy="285.9" r="4.4" fill="#7baaf7"/>
<line x1="175" x2="572" y1="532.4" y2="532.4" stroke="#655a8c" stroke-width="1"/>
<line x1="175" x2="572" y1="506.3" y2="506.3" stroke="#655a8c" stroke-width="1"/>
<line x1="175" x2="572" y1="480.2" y2="480.2" stroke="#655a8c" stroke-width="1"/>
<line x1="175" x2="572" y1="454.2" y2="454.2" stroke="#655a8c" stroke-width="1"/>
<rect x="192.61" y="542.77" width="2.7" height="15.63" rx="1" fill="#4285f4"/>
<rect x="196.12" y="537.56" width="2.7" height="20.84" rx="1" fill="#ea4335"/>
<rect x="199.63" y="547.98" width="2.7" height="10.42" rx="1" fill="#fbbc04"/>
<rect x="203.14" y="542.77" width="2.7" height="15.63" rx="1" fill="#34a853"/>
<rect x="206.65" y="547.98" width="2.7" height="10.42" rx="1" fill="#ff6d01"/>
<rect x="210.16" y="516.72" width="2.7" height="41.68" rx="1" fill="#46bdc6"/>
<rect x="213.67" y="516.72" width="2.7" height="41.68" rx="1" fill="#7baaf7"/>
<rect x="217.18" y="537.56" width="2.7" height="20.84" rx="1" fill="#f07b72"/>
<rect x="220.69" y="532.35" width="2.7" height="26.05" rx="1" fill="#fcd04f"/>
<rect x="268.05" y="553.19" width="2.7" height="5.21" rx="1" fill="#fcd04f"/>
<rect x="287.33" y="490.67" width="2.7" height="67.73" rx="1" fill="#4285f4"/>
<rect x="290.84" y="464.62" width="2.7" height="93.78" rx="1" fill="#ea4335"/>
<rect x="294.35" y="469.83" width="2.7" height="88.57" rx="1" fill="#fbbc04"/>
<rect x="297.86" y="469.83" width="2.7" height="88.57" rx="1" fill="#34a853"/>
<rect x="301.37" y="495.88" width="2.7" height="62.52" rx="1" fill="#ff6d01"/>
<rect x="304.88" y="459.41" width="2.7" height="98.99" rx="1" fill="#46bdc6"/>
<rect x="308.39" y="475.04" width="2.7" height="83.36" rx="1" fill="#7baaf7"/>
<rect x="311.90" y="506.30" width="2.7" height="52.10" rx="1" fill="#f07b72"/>
<rect x="315.41" y="501.09" width="2.7" height="57.31" rx="1" fill="#fcd04f"/>
<rect x="345.22" y="553.19" width="2.7" height="5.21" rx="1" fill="#34a853"/>
<rect x="348.73" y="553.19" width="2.7" height="5.21" rx="1" fill="#ff6d01"/>
<rect x="352.24" y="542.77" width="2.7" height="15.63" rx="1" fill="#46bdc6"/>
<rect x="362.77" y="553.19" width="2.7" height="5.21" rx="1" fill="#fcd04f"/>
<rect x="389.07" y="553.19" width="2.7" height="5.21" rx="1" fill="#fbbc04"/>
<rect x="432.92" y="553.19" width="2.7" height="5.21" rx="1" fill="#ea4335"/>
<rect x="450.47" y="553.19" width="2.7" height="5.21" rx="1" fill="#7baaf7"/>
<rect x="457.49" y="553.19" width="2.7" height="5.21" rx="1" fill="#fcd04f"/>
<rect x="487.30" y="553.19" width="2.7" height="5.21" rx="1" fill="#34a853"/>
<rect x="490.81" y="532.35" width="2.7" height="26.05" rx="1" fill="#ff6d01"/>
<rect x="494.32" y="547.98" width="2.7" height="10.42" rx="1" fill="#46bdc6"/>
<rect x="497.83" y="553.19" width="2.7" height="5.21" rx="1" fill="#7baaf7"/>
<rect x="501.34" y="553.19" width="2.7" height="5.21" rx="1" fill="#f07b72"/>
<rect x="504.85" y="547.98" width="2.7" height="10.42" rx="1" fill="#fcd04f"/>
<rect x="534.66" y="553.19" width="2.7" height="5.21" rx="1" fill="#34a853"/>
<rect x="538.17" y="553.19" width="2.7" height="5.21" rx="1" fill="#ff6d01"/>
<rect x="541.68" y="553.19" width="2.7" height="5.21" rx="1" fill="#46bdc6"/>
<rect x="545.19" y="547.98" width="2.7" height="10.42" rx="1" fill="#7baaf7"/>
<rect x="548.70" y="553.19" width="2.7" height="5.21" rx="1" fill="#f07b72"/>
<line x1="175" x2="572" y1="558.4" y2="558.4" stroke="#fff" stroke-width="1.4"/>
<rect x="165.0" y="598.6" width="9" height="9" rx="1" fill="#4285f4"/>
<rect x="210.6" y="598.6" width="9" height="9" rx="1" fill="#ea4335"/>
<rect x="256.2" y="598.6" width="9" height="9" rx="1" fill="#fbbc04"/>
<rect x="301.8" y="598.6" width="9" height="9" rx="1" fill="#34a853"/>
<rect x="347.4" y="598.6" width="9" height="9" rx="1" fill="#ff6d01"/>
<rect x="393.0" y="598.6" width="9" height="9" rx="1" fill="#46bdc6"/>
<rect x="438.6" y="598.6" width="9" height="9" rx="1" fill="#7baaf7"/>
<rect x="484.2" y="598.6" width="9" height="9" rx="1" fill="#f07b72"/>
<rect x="529.8" y="598.6" width="9" height="9" rx="1" fill="#fcd04f"/>
<line x1="175.5" x2="175.5" y1="729.6" y2="834.4" stroke="#fff" stroke-width="1.2"/>
<line x1="285.6" x2="285.6" y1="729.6" y2="834.4" stroke="#c218d8" stroke-width="1"/>
<line x1="396.4" x2="396.4" y1="729.6" y2="834.4" stroke="#c218d8" stroke-width="1"/>
<line x1="507.6" x2="507.6" y1="729.6" y2="834.4" stroke="#c218d8" stroke-width="1"/>
<path d="M176 735.1 H176.5 Q177.0 735.1 177.0 735.6 V741.4 Q177.0 741.9 176.5 741.9 H176z" fill="#cc0000"/>
<path d="M176 746.2 H203.1 Q205.6 746.2 205.6 748.7 V750.5 Q205.6 753.0 203.1 753.0 H176z" fill="#4285f4"/>
<path d="M176 757.3 H179.2 Q181.7 757.3 181.7 759.8 V761.6 Q181.7 764.1 179.2 764.1 H176z" fill="#a61c3c"/>
<path d="M176 768.4 H473.2 Q475.7 768.4 475.7 770.9 V772.7 Q475.7 775.2 473.2 775.2 H176z" fill="#674ea7"/>
<path d="M176 779.5 H177.2 Q178.3 779.5 178.3 780.6 V785.1 Q178.3 786.3 177.2 786.3 H176z" fill="#ff6d01"/>
<path d="M176 790.6 H194.3 Q196.8 790.6 196.8 793.1 V794.9 Q196.8 797.4 194.3 797.4 H176z" fill="#1fc01f"/>
<path d="M176 801.7 H177.0 Q178.0 801.7 178.0 802.7 V807.5 Q178.0 808.5 177.0 808.5 H176z" fill="#f1e04a"/>
<path d="M176 812.8 H238.7 Q241.2 812.8 241.2 815.3 V817.1 Q241.2 819.6 238.7 819.6 H176z" fill="#ff00ff"/></svg>
<span class="t" style="font-size:23.11px;color:#1d52bd;transform:translate(25.94px,4.44px) scaleX(0.6189) rotate(0.03deg);letter-spacing:1.96px;text-shadow:1.40px 0 0 #1d52bd,-1.40px 0 0 #1d52bd,0.70px 0 0 #1d52bd,-0.70px 0 0 #1d52bd;">MRCC COLOMBO SRI LANKA</span>
<span class="t" style="font-size:17.73px;color:#1d52bd;transform:translate(25.76px,35.59px) scaleX(0.6098) rotate(0.03deg);letter-spacing:1.53px;text-shadow:1.09px 0 0 #1d52bd,-1.09px 0 0 #1d52bd,0.55px 0 0 #1d52bd,-0.55px 0 0 #1d52bd;">MONTHLY MARITIME SAFETY BULLETIN -</span>
<span class="t" style="font-size:17.73px;color:#1d52bd;transform:translate(301.55px,35.29px) scaleX(0.5961) rotate(0.03deg);letter-spacing:1.56px;text-shadow:1.12px 0 0 #1d52bd,-1.12px 0 0 #1d52bd,0.56px 0 0 #1d52bd,-0.56px 0 0 #1d52bd;">SEPTEMBER</span>
<span class="t" style="font-size:18.64px;color:#1d52bd;transform:translate(396.23px,32.72px) scaleX(0.7250) rotate(0.03deg);letter-spacing:1.35px;text-shadow:0.96px 0 0 #1d52bd,-0.96px 0 0 #1d52bd,0.48px 0 0 #1d52bd,-0.48px 0 0 #1d52bd;">2025</span>
<span class="t" style="font-size:11.63px;color:#ffffff;transform:translate(38.37px,108.16px) scaleX(0.5909) rotate(0.03deg);letter-spacing:1.03px;text-shadow:0.74px 0 0 #ffffff,-0.74px 0 0 #ffffff;">TOTAL</span>
<span class="t" style="font-size:30.51px;color:#ffffff;transform:translate(39.92px,127.67px) scaleX(0.5429) rotate(0.03deg);letter-spacing:3.34px;text-shadow:2.39px 0 0 #ffffff,-2.39px 0 0 #ffffff,1.19px 0 0 #ffffff,-1.19px 0 0 #ffffff;">21</span>
<span class="t" style="font-size:11.05px;color:#ffffff;transform:translate(29.99px,158.65px) scaleX(0.5949) rotate(0.03deg);letter-spacing:0.97px;text-shadow:0.70px 0 0 #ffffff,-0.70px 0 0 #ffffff;">INCIDENTS</span>
<span class="t" style="font-size:11.58px;color:#f40000;transform:translate(85.05px,112.40px) scaleX(0.7806) rotate(0.03deg);letter-spacing:0.31px;text-shadow:0.22px 0 0 #f40000,-0.22px 0 0 #f40000;">31.3%</span>
<span class="t" style="font-size:12.35px;color:#05050f;transform:translate(85.65px,135.74px) scaleX(0.5932) rotate(0.03deg);letter-spacing:0.80px;text-shadow:0.57px 0 0 #05050f,-0.57px 0 0 #05050f;">COMPARED</span>
<span class="t" style="font-size:12.35px;color:#05050f;transform:translate(88.04px,150.44px) scaleX(0.6366) rotate(0.03deg);letter-spacing:0.75px;text-shadow:0.53px 0 0 #05050f,-0.53px 0 0 #05050f;">WITH 2024</span>
<span class="t" style="font-size:10.90px;color:#ffffff;transform:translate(32.98px,187.77px) scaleX(0.6013) rotate(0.03deg);letter-spacing:0.95px;text-shadow:0.68px 0 0 #ffffff,-0.68px 0 0 #ffffff;">PATIENTS</span>
<span class="t" style="font-size:11.05px;color:#ffffff;transform:translate(30.15px,237.65px) scaleX(0.5930) rotate(0.03deg);letter-spacing:0.98px;text-shadow:0.70px 0 0 #ffffff,-0.70px 0 0 #ffffff;">ON BOARD</span>
<span class="t" style="font-size:19.49px;color:#ffffff;transform:translate(45.86px,211.00px) scaleX(0.7659) rotate(0.03deg);letter-spacing:1.43px;text-shadow:1.02px 0 0 #ffffff,-1.02px 0 0 #ffffff,0.51px 0 0 #ffffff,-0.51px 0 0 #ffffff;">6</span>
<span class="t" style="font-size:16.95px;color:#1c4fb4;transform:translate(87.35px,200.45px) scaleX(0.8254) rotate(0.03deg);letter-spacing:0.57px;text-shadow:0.41px 0 0 #1c4fb4,-0.41px 0 0 #1c4fb4;">28.6%</span>
<span class="t" style="font-size:8.43px;color:#111;transform:translate(85.96px,238.76px) scaleX(0.6310) rotate(0.03deg);font-weight:400;letter-spacing:0.61px;text-shadow:0.43px 0 0 #111,-0.43px 0 0 #111;">of total incidents</span>
<span class="t" style="font-size:10.90px;color:#ffffff;transform:translate(29.34px,264.77px) scaleX(0.5855) rotate(0.03deg);letter-spacing:0.98px;text-shadow:0.70px 0 0 #ffffff,-0.70px 0 0 #ffffff;">TECHNICAL</span>
<span class="t" style="font-size:10.76px;color:#ffffff;transform:translate(34.59px,309.90px) scaleX(0.5969) rotate(0.03deg);letter-spacing:0.95px;text-shadow:0.68px 0 0 #ffffff,-0.68px 0 0 #ffffff;">FAILURE</span>
<span class="t" style="font-size:19.21px;color:#ffffff;transform:translate(46.57px,288.74px) scaleX(0.6426) rotate(0.03deg);letter-spacing:1.67px;text-shadow:1.20px 0 0 #ffffff,-1.20px 0 0 #ffffff,0.60px 0 0 #ffffff,-0.60px 0 0 #ffffff;">7</span>
<span class="t" style="font-size:16.95px;color:#34a853;transform:translate(87.50px,275.45px) scaleX(0.7971) rotate(0.03deg);letter-spacing:0.60px;text-shadow:0.43px 0 0 #34a853,-0.43px 0 0 #34a853;">33.3%</span>
<span class="t" style="font-size:8.43px;color:#111;transform:translate(85.96px,309.56px) scaleX(0.6310) rotate(0.03deg);font-weight:400;letter-spacing:0.61px;text-shadow:0.43px 0 0 #111,-0.43px 0 0 #111;">of total incidents</span>
<span class="t" style="font-size:10.47px;color:#ffffff;transform:translate(40.96px,332.14px) scaleX(0.6312) rotate(0.03deg);letter-spacing:0.87px;text-shadow:0.62px 0 0 #ffffff,-0.62px 0 0 #ffffff;">FIRE</span>
<span class="t" style="font-size:11.05px;color:#ffffff;transform:translate(31.55px,344.65px) scaleX(0.5927) rotate(0.03deg);letter-spacing:0.98px;text-shadow:0.70px 0 0 #ffffff,-0.70px 0 0 #ffffff;">ONBOARD</span>
<span class="t" style="font-size:11.05px;color:#ffffff;transform:translate(22.76px,387.65px) scaleX(0.5758) rotate(0.03deg);letter-spacing:1.01px;text-shadow:0.72px 0 0 #ffffff,-0.72px 0 0 #ffffff;">CREW MEMBER</span>
<span class="t" style="font-size:19.21px;color:#ffffff;transform:translate(45.76px,361.74px) scaleX(0.7960) rotate(0.03deg);letter-spacing:1.35px;text-shadow:0.97px 0 0 #ffffff,-0.97px 0 0 #ffffff,0.48px 0 0 #ffffff,-0.48px 0 0 #ffffff;">0</span>
<span class="t" style="font-size:16.53px;color:#46bdc6;transform:translate(90.75px,350.51px) scaleX(0.8729) rotate(0.03deg);letter-spacing:0.53px;text-shadow:0.38px 0 0 #46bdc6,-0.38px 0 0 #46bdc6;">0.0%</span>
<span class="t" style="font-size:8.43px;color:#111;transform:translate(83.66px,389.36px) scaleX(0.6359) rotate(0.03deg);font-weight:400;letter-spacing:0.60px;text-shadow:0.43px 0 0 #111,-0.43px 0 0 #111;">of total incidents</span>
<span class="t" style="font-size:10.61px;color:#ffffff;transform:translate(32.28px,419.02px) scaleX(0.6002) rotate(0.03deg);letter-spacing:0.93px;text-shadow:0.66px 0 0 #ffffff,-0.66px 0 0 #ffffff;">DISTRESS</span>
<span class="t" style="font-size:11.05px;color:#ffffff;transform:translate(22.61px,469.55px) scaleX(0.5606) rotate(0.03deg);letter-spacing:1.03px;text-shadow:0.74px 0 0 #ffffff,-0.74px 0 0 #ffffff;">BEACON ALERT</span>
<span class="t" style="font-size:19.49px;color:#ffffff;transform:translate(45.88px,442.80px) scaleX(0.7312) rotate(0.03deg);letter-spacing:1.49px;text-shadow:1.07px 0 0 #ffffff,-1.07px 0 0 #ffffff,0.53px 0 0 #ffffff,-0.53px 0 0 #ffffff;">2</span>
<span class="t" style="font-size:16.10px;color:#a64d79;transform:translate(91.43px,431.17px) scaleX(0.8645) rotate(0.03deg);letter-spacing:0.52px;text-shadow:0.37px 0 0 #a64d79,-0.37px 0 0 #a64d79;">9.5%</span>
<span class="t" style="font-size:8.43px;color:#111;transform:translate(83.66px,470.36px) scaleX(0.6359) rotate(0.03deg);font-weight:400;letter-spacing:0.60px;text-shadow:0.43px 0 0 #111,-0.43px 0 0 #111;">of total incidents</span>
<span class="t" style="font-size:10.90px;color:#ffffff;transform:translate(41.46px,497.77px) scaleX(0.6282) rotate(0.03deg);letter-spacing:0.91px;text-shadow:0.65px 0 0 #ffffff,-0.65px 0 0 #ffffff;">MOB</span>
<span class="t" style="font-size:10.90px;color:#ffffff;transform:translate(34.38px,546.77px) scaleX(0.5490) rotate(0.03deg);letter-spacing:1.04px;text-shadow:0.74px 0 0 #ffffff,-0.74px 0 0 #ffffff;">VESSELS</span>
<span class="t" style="font-size:19.49px;color:#ffffff;transform:translate(46.03px,521.00px) scaleX(0.7090) rotate(0.03deg);letter-spacing:1.54px;text-shadow:1.10px 0 0 #ffffff,-1.10px 0 0 #ffffff,0.55px 0 0 #ffffff,-0.55px 0 0 #ffffff;">3</span>
<span class="t" style="font-size:16.53px;color:#a61c00;transform:translate(87.52px,510.51px) scaleX(0.8183) rotate(0.03deg);letter-spacing:0.57px;text-shadow:0.40px 0 0 #a61c00,-0.40px 0 0 #a61c00;">14.3%</span>
<span class="t" style="font-size:8.43px;color:#111;transform:translate(83.66px,547.56px) scaleX(0.6359) rotate(0.03deg);font-weight:400;letter-spacing:0.60px;text-shadow:0.43px 0 0 #111,-0.43px 0 0 #111;">of total incidents</span>
<span class="t" style="font-size:10.76px;color:#ffffff;transform:translate(38.15px,574.90px) scaleX(0.5901) rotate(0.03deg);letter-spacing:0.96px;text-shadow:0.68px 0 0 #ffffff,-0.68px 0 0 #ffffff;">OTHER</span>
<span class="t" style="font-size:11.05px;color:#ffffff;transform:translate(29.99px,622.65px) scaleX(0.5949) rotate(0.03deg);letter-spacing:0.97px;text-shadow:0.70px 0 0 #ffffff,-0.70px 0 0 #ffffff;">INCIDENTS</span>
<span class="t" style="font-size:19.92px;color:#ffffff;transform:translate(45.79px,596.74px) scaleX(0.7618) rotate(0.03deg);letter-spacing:1.46px;text-shadow:1.05px 0 0 #ffffff,-1.05px 0 0 #ffffff,0.52px 0 0 #ffffff,-0.52px 0 0 #ffffff;">0</span>
<span class="t" style="font-size:16.38px;color:#8a10e0;transform:translate(90.76px,587.93px) scaleX(0.8671) rotate(0.03deg);letter-spacing:0.53px;text-shadow:0.38px 0 0 #8a10e0,-0.38px 0 0 #8a10e0;">0.0%</span>
<span class="t" style="font-size:8.43px;color:#111;transform:translate(83.66px,623.46px) scaleX(0.6359) rotate(0.03deg);font-weight:400;letter-spacing:0.60px;text-shadow:0.43px 0 0 #111,-0.43px 0 0 #111;">of total incidents</span>
<span class="t" style="font-size:10.32px;color:#ffffff;transform:translate(31.13px,651.06px) scaleX(0.6297) rotate(0.03deg);letter-spacing:0.86px;text-shadow:0.61px 0 0 #ffffff,-0.61px 0 0 #ffffff;">OVER DUE</span>
<span class="t" style="font-size:10.47px;color:#ffffff;transform:translate(34.36px,701.14px) scaleX(0.5754) rotate(0.03deg);letter-spacing:0.95px;text-shadow:0.68px 0 0 #ffffff,-0.68px 0 0 #ffffff;">VESSELS</span>
<span class="t" style="font-size:18.79px;color:#ffffff;transform:translate(46.00px,675.40px) scaleX(0.7417) rotate(0.03deg);letter-spacing:1.42px;text-shadow:1.01px 0 0 #ffffff,-1.01px 0 0 #ffffff,0.51px 0 0 #ffffff,-0.51px 0 0 #ffffff;">3</span>
<span class="t" style="font-size:16.24px;color:#f07a28;transform:translate(87.51px,665.05px) scaleX(0.8335) rotate(0.03deg);letter-spacing:0.55px;text-shadow:0.39px 0 0 #f07a28,-0.39px 0 0 #f07a28;">14.3%</span>
<span class="t" style="font-size:8.43px;color:#111;transform:translate(83.66px,701.46px) scaleX(0.6359) rotate(0.03deg);font-weight:400;letter-spacing:0.60px;text-shadow:0.43px 0 0 #111,-0.43px 0 0 #111;">of total incidents</span>
<span class="t" style="font-size:10.61px;color:#ffffff;transform:translate(24.44px,723.32px) scaleX(0.6105) rotate(0.03deg);letter-spacing:0.91px;text-shadow:0.65px 0 0 #ffffff,-0.65px 0 0 #ffffff;">GROUNDED &amp;</span>
<span class="t" style="font-size:11.05px;color:#ffffff;transform:translate(31.56px,736.95px) scaleX(0.5679) rotate(0.03deg);letter-spacing:1.02px;text-shadow:0.73px 0 0 #ffffff,-0.73px 0 0 #ffffff;">CAPSIZED</span>
<span class="t" style="font-size:10.76px;color:#ffffff;transform:translate(34.37px,773.30px) scaleX(0.5575) rotate(0.03deg);letter-spacing:1.01px;text-shadow:0.72px 0 0 #ffffff,-0.72px 0 0 #ffffff;">VESSELS</span>
<span class="t" style="font-size:19.35px;color:#ffffff;transform:translate(45.76px,752.62px) scaleX(0.7890) rotate(0.03deg);letter-spacing:1.37px;text-shadow:0.98px 0 0 #ffffff,-0.98px 0 0 #ffffff,0.49px 0 0 #ffffff,-0.49px 0 0 #ffffff;">0</span>
<span class="t" style="font-size:16.10px;color:#f07a28;transform:translate(90.75px,739.17px) scaleX(0.8833) rotate(0.03deg);letter-spacing:0.51px;text-shadow:0.36px 0 0 #f07a28,-0.36px 0 0 #f07a28;">0.0%</span>
<span class="t" style="font-size:8.43px;color:#111;transform:translate(83.66px,775.26px) scaleX(0.6359) rotate(0.03deg);font-weight:400;letter-spacing:0.60px;text-shadow:0.43px 0 0 #111,-0.43px 0 0 #111;">of total incidents</span>
<span class="t" style="font-size:10.90px;color:#ffffff;transform:translate(37.98px,802.77px) scaleX(0.6029) rotate(0.03deg);letter-spacing:0.95px;text-shadow:0.68px 0 0 #ffffff,-0.68px 0 0 #ffffff;">DEATH</span>
<span class="t" style="font-size:19.21px;color:#ffffff;transform:translate(45.76px,826.64px) scaleX(0.7960) rotate(0.03deg);letter-spacing:1.35px;text-shadow:0.97px 0 0 #ffffff,-0.97px 0 0 #ffffff,0.48px 0 0 #ffffff,-0.48px 0 0 #ffffff;">0</span>
<span class="t" style="font-size:15.96px;color:#f07a28;transform:translate(91.34px,812.29px) scaleX(0.9058) rotate(0.03deg);letter-spacing:0.49px;text-shadow:0.35px 0 0 #f07a28,-0.35px 0 0 #f07a28;">0.0%</span>
<span class="t" style="font-size:8.43px;color:#111;transform:translate(83.66px,846.06px) scaleX(0.6359) rotate(0.03deg);font-weight:400;letter-spacing:0.60px;text-shadow:0.43px 0 0 #111,-0.43px 0 0 #111;">of total incidents</span>
<span class="t" style="font-size:15.84px;color:#ffffff;transform:translate(147.20px,79.99px) scaleX(0.5894) rotate(0.03deg);letter-spacing:1.37px;text-shadow:1.14px 0 0 #ffffff,-1.14px 0 0 #ffffff,0.57px 0 0 #ffffff,-0.57px 0 0 #ffffff;">COMPARISON OF INCIDENTS (2017 - 2025)</span>
<span class="t" style="font-size:15.70px;color:#ffffff;transform:translate(151.02px,426.01px) scaleX(0.5490) rotate(0.03deg);letter-spacing:1.54px;text-shadow:1.29px 0 0 #ffffff,-1.29px 0 0 #ffffff,0.64px 0 0 #ffffff,-0.64px 0 0 #ffffff;">TYPE OF PLATFORMS</span>
<span class="t" style="font-size:16.28px;color:#ffffff;transform:translate(150.58px,695.82px) scaleX(0.5440) rotate(0.03deg);letter-spacing:1.62px;text-shadow:1.35px 0 0 #ffffff,-1.35px 0 0 #ffffff,0.67px 0 0 #ffffff,-0.67px 0 0 #ffffff;">COST INCURRED BY SLN</span>
<span class="t" style="font-size:9.01px;color:#ffffff;transform:translate(259.76px,310.07px) scaleX(0.6667) rotate(0.03deg);font-weight:400;letter-spacing:0.47px;text-shadow:0.34px 0 0 #ffffff,-0.34px 0 0 #ffffff;">(Others include -Grounding, Collision, Fire On board and Other incidents)</span>
<span class="t" style="font-size:9.04px;color:#ffffff;transform:translate(167.43px,242.55px) scaleX(1.0247) rotate(0.03deg);-webkit-text-stroke:0.3px #ffffff;">0</span>
<span class="t" style="font-size:9.04px;color:#ffffff;transform:translate(167.54px,198.05px) scaleX(0.9735) rotate(0.03deg);-webkit-text-stroke:0.3px #ffffff;">5</span>
<span class="t" style="font-size:9.04px;color:#ffffff;transform:translate(162.45px,153.55px) scaleX(1.0077) rotate(0.03deg);-webkit-text-stroke:0.3px #ffffff;">10</span>
<span class="t" style="font-size:9.04px;color:#ffffff;transform:translate(162.46px,109.05px) scaleX(0.9929) rotate(0.03deg);-webkit-text-stroke:0.3px #ffffff;">15</span>
<span class="t" style="font-size:9.18px;color:#ffffff;transform:translate(219.68px,252.13px) scaleX(0.9884) rotate(0.03deg);-webkit-text-stroke:0.3px #ffffff;">2018</span>
<span class="t" style="font-size:9.18px;color:#ffffff;transform:translate(315.88px,252.13px) scaleX(0.9930) rotate(0.03deg);-webkit-text-stroke:0.3px #ffffff;">2020</span>
<span class="t" style="font-size:9.18px;color:#ffffff;transform:translate(412.08px,252.13px) scaleX(0.9930) rotate(0.03deg);-webkit-text-stroke:0.3px #ffffff;">2022</span>
<span class="t" style="font-size:9.18px;color:#ffffff;transform:translate(508.29px,252.13px) scaleX(0.9771) rotate(0.03deg);-webkit-text-stroke:0.3px #ffffff;">2024</span>
<span class="t" style="font-size:9.16px;color:#ffffff;transform:translate(188.42px,268.25px) scaleX(0.9816) rotate(0.03deg);-webkit-text-stroke:0.3px #ffffff;">MOB</span>
<span class="t" style="font-size:9.16px;color:#ffffff;transform:translate(232.91px,268.25px) scaleX(0.9954) rotate(0.03deg);-webkit-text-stroke:0.3px #ffffff;">Death</span>
<span class="t" style="font-size:9.16px;color:#ffffff;transform:translate(282.44px,268.25px) scaleX(0.9336) rotate(0.03deg);-webkit-text-stroke:0.3px #ffffff;">Patient Onboard</span>
<span class="t" style="font-size:9.16px;color:#ffffff;transform:translate(373.46px,268.25px) scaleX(0.9142) rotate(0.03deg);-webkit-text-stroke:0.3px #ffffff;">EPIRB Alert</span>
<span class="t" style="font-size:9.16px;color:#ffffff;transform:translate(444.92px,268.25px) scaleX(0.9266) rotate(0.03deg);-webkit-text-stroke:0.3px #ffffff;">Tech Failure</span>
<span class="t" style="font-size:9.16px;color:#ffffff;transform:translate(519.66px,268.25px) scaleX(0.9317) rotate(0.03deg);-webkit-text-stroke:0.3px #ffffff;">Overdue</span>
<span class="t" style="font-size:9.16px;color:#ffffff;transform:translate(357.66px,281.05px) scaleX(0.9390) rotate(0.03deg);-webkit-text-stroke:0.3px #ffffff;">Others</span>
<span class="t dl" style="font-size:6.92px;color:#4285f4;transform:translate(192.01px,528.86px) scaleX(1.0337) rotate(0.03deg);-webkit-text-stroke:0.3px #4285f4;">3</span>
<span class="t dl" style="font-size:6.92px;color:#ea4335;transform:translate(195.60px,523.65px) scaleX(0.9564) rotate(0.03deg);-webkit-text-stroke:0.3px #ea4335;">4</span>
<span class="t dl" style="font-size:6.92px;color:#fbbc04;transform:translate(198.95px,534.07px) scaleX(1.0660) rotate(0.03deg);-webkit-text-stroke:0.3px #fbbc04;">2</span>
<span class="t dl" style="font-size:6.92px;color:#34a853;transform:translate(202.54px,528.86px) scaleX(1.0337) rotate(0.03deg);-webkit-text-stroke:0.3px #34a853;">3</span>
<span class="t dl" style="font-size:6.92px;color:#ff6d01;transform:translate(205.97px,534.07px) scaleX(1.0660) rotate(0.03deg);-webkit-text-stroke:0.3px #ff6d01;">2</span>
<span class="t dl" style="font-size:9.32px;color:#46bdc6;transform:translate(208.84px,498.83px) scaleX(1.0337) rotate(0.03deg);-webkit-text-stroke:0.3px #46bdc6;">8</span>
<span class="t dl" style="font-size:9.32px;color:#7baaf7;transform:translate(212.35px,498.83px) scaleX(1.0337) rotate(0.03deg);-webkit-text-stroke:0.3px #7baaf7;">8</span>
<span class="t dl" style="font-size:9.32px;color:#f07b72;transform:translate(216.01px,519.67px) scaleX(0.9564) rotate(0.03deg);-webkit-text-stroke:0.3px #f07b72;">4</span>
<span class="t" style="font-size:8.72px;color:#ffffff;transform:translate(189.50px,563.42px) scaleX(0.9440) rotate(0.03deg);-webkit-text-stroke:0.12px #ffffff;">Merchant</span>
<span class="t" style="font-size:8.72px;color:#ffffff;transform:translate(195.37px,573.52px) scaleX(0.9496) rotate(0.03deg);-webkit-text-stroke:0.12px #ffffff;">Vessel</span>
<span class="t dl" style="font-size:6.92px;color:#4285f4;transform:translate(239.25px,544.49px) scaleX(1.0772) rotate(0.03deg);-webkit-text-stroke:0.3px #4285f4;">0</span>
<span class="t dl" style="font-size:6.92px;color:#ea4335;transform:translate(242.76px,544.49px) scaleX(1.0772) rotate(0.03deg);-webkit-text-stroke:0.3px #ea4335;">0</span>
<span class="t dl" style="font-size:6.92px;color:#fbbc04;transform:translate(246.27px,544.49px) scaleX(1.0772) rotate(0.03deg);-webkit-text-stroke:0.3px #fbbc04;">0</span>
<span class="t dl" style="font-size:6.92px;color:#34a853;transform:translate(249.78px,544.49px) scaleX(1.0772) rotate(0.03deg);-webkit-text-stroke:0.3px #34a853;">0</span>
<span class="t dl" style="font-size:6.92px;color:#ff6d01;transform:translate(253.29px,544.49px) scaleX(1.0772) rotate(0.03deg);-webkit-text-stroke:0.3px #ff6d01;">0</span>
<span class="t dl" style="font-size:9.32px;color:#46bdc6;transform:translate(256.08px,540.51px) scaleX(1.0772) rotate(0.03deg);-webkit-text-stroke:0.3px #46bdc6;">0</span>
<span class="t dl" style="font-size:9.32px;color:#7baaf7;transform:translate(259.59px,540.51px) scaleX(1.0772) rotate(0.03deg);-webkit-text-stroke:0.3px #7baaf7;">0</span>
<span class="t dl" style="font-size:9.32px;color:#f07b72;transform:translate(263.10px,540.51px) scaleX(1.0772) rotate(0.03deg);-webkit-text-stroke:0.3px #f07b72;">0</span>
<span class="t" style="font-size:8.72px;color:#ffffff;transform:translate(240.00px,563.42px) scaleX(0.9601) rotate(0.03deg);-webkit-text-stroke:0.12px #ffffff;">Foreign</span>
<span class="t" style="font-size:8.72px;color:#ffffff;transform:translate(244.02px,573.52px) scaleX(0.9758) rotate(0.03deg);-webkit-text-stroke:0.12px #ffffff;">Naval</span>
<span class="t" style="font-size:8.72px;color:#ffffff;transform:translate(242.73px,583.62px) scaleX(0.9496) rotate(0.03deg);-webkit-text-stroke:0.12px #ffffff;">Vessel</span>
<span class="t dl" style="font-size:6.92px;color:#4285f4;transform:translate(284.72px,476.76px) scaleX(1.0082) rotate(0.03deg);-webkit-text-stroke:0.3px #4285f4;">13</span>
<span class="t dl" style="font-size:6.92px;color:#ea4335;transform:translate(288.23px,450.71px) scaleX(1.0033) rotate(0.03deg);-webkit-text-stroke:0.3px #ea4335;">18</span>
<span class="t dl" style="font-size:6.92px;color:#fbbc04;transform:translate(291.74px,455.92px) scaleX(1.0132) rotate(0.03deg);-webkit-text-stroke:0.3px #fbbc04;">17</span>
<span class="t dl" style="font-size:6.92px;color:#34a853;transform:translate(295.25px,455.92px) scaleX(1.0132) rotate(0.03deg);-webkit-text-stroke:0.3px #34a853;">17</span>
<span class="t dl" style="font-size:6.92px;color:#ff6d01;transform:translate(298.76px,481.97px) scaleX(1.0132) rotate(0.03deg);-webkit-text-stroke:0.3px #ff6d01;">12</span>
<span class="t dl" style="font-size:9.32px;color:#46bdc6;transform:translate(300.90px,441.52px) scaleX(1.0082) rotate(0.03deg);-webkit-text-stroke:0.3px #46bdc6;">19</span>
<span class="t dl" style="font-size:9.32px;color:#7baaf7;transform:translate(304.41px,457.15px) scaleX(1.0082) rotate(0.03deg);-webkit-text-stroke:0.3px #7baaf7;">16</span>
<span class="t dl" style="font-size:9.32px;color:#f07b72;transform:translate(307.91px,488.41px) scaleX(1.0132) rotate(0.03deg);-webkit-text-stroke:0.3px #f07b72;">10</span>
<span class="t" style="font-size:8.72px;color:#ffffff;transform:translate(281.89px,563.42px) scaleX(0.9451) rotate(0.03deg);-webkit-text-stroke:0.12px #ffffff;">SL Fishing</span>
<span class="t" style="font-size:8.72px;color:#ffffff;transform:translate(290.09px,573.52px) scaleX(0.9496) rotate(0.03deg);-webkit-text-stroke:0.12px #ffffff;">Vessel</span>
<span class="t dl" style="font-size:6.92px;color:#4285f4;transform:translate(333.97px,544.49px) scaleX(1.0772) rotate(0.03deg);-webkit-text-stroke:0.3px #4285f4;">0</span>
<span class="t dl" style="font-size:6.92px;color:#ea4335;transform:translate(337.48px,544.49px) scaleX(1.0772) rotate(0.03deg);-webkit-text-stroke:0.3px #ea4335;">0</span>
<span class="t dl" style="font-size:6.92px;color:#fbbc04;transform:translate(340.99px,544.49px) scaleX(1.0772) rotate(0.03deg);-webkit-text-stroke:0.3px #fbbc04;">0</span>
<span class="t dl" style="font-size:6.92px;color:#34a853;transform:translate(344.35px,539.28px) scaleX(1.0886) rotate(0.03deg);-webkit-text-stroke:0.3px #34a853;">1</span>
<span class="t dl" style="font-size:6.92px;color:#ff6d01;transform:translate(347.86px,539.28px) scaleX(1.0886) rotate(0.03deg);-webkit-text-stroke:0.3px #ff6d01;">1</span>
<span class="t dl" style="font-size:9.32px;color:#46bdc6;transform:translate(350.96px,524.88px) scaleX(1.0337) rotate(0.03deg);-webkit-text-stroke:0.3px #46bdc6;">3</span>
<span class="t dl" style="font-size:9.32px;color:#7baaf7;transform:translate(354.31px,540.51px) scaleX(1.0772) rotate(0.03deg);-webkit-text-stroke:0.3px #7baaf7;">0</span>
<span class="t dl" style="font-size:9.32px;color:#f07b72;transform:translate(357.82px,540.51px) scaleX(1.0772) rotate(0.03deg);-webkit-text-stroke:0.3px #f07b72;">0</span>
<span class="t" style="font-size:8.72px;color:#ffffff;transform:translate(334.72px,563.42px) scaleX(0.9601) rotate(0.03deg);-webkit-text-stroke:0.12px #ffffff;">Foreign</span>
<span class="t" style="font-size:8.72px;color:#ffffff;transform:translate(335.16px,573.52px) scaleX(0.9622) rotate(0.03deg);-webkit-text-stroke:0.12px #ffffff;">Fishing</span>
<span class="t" style="font-size:8.72px;color:#ffffff;transform:translate(337.45px,583.62px) scaleX(0.9496) rotate(0.03deg);-webkit-text-stroke:0.12px #ffffff;">Vessel</span>
<span class="t dl" style="font-size:6.92px;color:#4285f4;transform:translate(381.33px,544.49px) scaleX(1.0772) rotate(0.03deg);-webkit-text-stroke:0.3px #4285f4;">0</span>
<span class="t dl" style="font-size:6.92px;color:#ea4335;transform:translate(384.84px,544.49px) scaleX(1.0772) rotate(0.03deg);-webkit-text-stroke:0.3px #ea4335;">0</span>
<span class="t dl" style="font-size:6.92px;color:#fbbc04;transform:translate(388.20px,539.28px) scaleX(1.0886) rotate(0.03deg);-webkit-text-stroke:0.3px #fbbc04;">1</span>
<span class="t dl" style="font-size:6.92px;color:#34a853;transform:translate(391.86px,544.49px) scaleX(1.0772) rotate(0.03deg);-webkit-text-stroke:0.3px #34a853;">0</span>
<span class="t dl" style="font-size:6.92px;color:#ff6d01;transform:translate(395.37px,544.49px) scaleX(1.0772) rotate(0.03deg);-webkit-text-stroke:0.3px #ff6d01;">0</span>
<span class="t dl" style="font-size:9.32px;color:#46bdc6;transform:translate(398.16px,540.51px) scaleX(1.0772) rotate(0.03deg);-webkit-text-stroke:0.3px #46bdc6;">0</span>
<span class="t dl" style="font-size:9.32px;color:#7baaf7;transform:translate(401.67px,540.51px) scaleX(1.0772) rotate(0.03deg);-webkit-text-stroke:0.3px #7baaf7;">0</span>
<span class="t dl" style="font-size:9.32px;color:#f07b72;transform:translate(405.18px,540.51px) scaleX(1.0772) rotate(0.03deg);-webkit-text-stroke:0.3px #f07b72;">0</span>
<span class="t" style="font-size:8.72px;color:#ffffff;transform:translate(380.05px,563.42px) scaleX(0.9485) rotate(0.03deg);-webkit-text-stroke:0.12px #ffffff;">Pleasure</span>
<span class="t" style="font-size:8.72px;color:#ffffff;transform:translate(387.68px,573.52px) scaleX(0.9487) rotate(0.03deg);-webkit-text-stroke:0.12px #ffffff;">Craft</span>
<span class="t dl" style="font-size:6.92px;color:#4285f4;transform:translate(428.69px,544.49px) scaleX(1.0772) rotate(0.03deg);-webkit-text-stroke:0.3px #4285f4;">0</span>
<span class="t dl" style="font-size:6.92px;color:#ea4335;transform:translate(432.05px,539.28px) scaleX(1.0886) rotate(0.03deg);-webkit-text-stroke:0.3px #ea4335;">1</span>
<span class="t dl" style="font-size:6.92px;color:#fbbc04;transform:translate(435.71px,544.49px) scaleX(1.0772) rotate(0.03deg);-webkit-text-stroke:0.3px #fbbc04;">0</span>
<span class="t dl" style="font-size:6.92px;color:#34a853;transform:translate(439.22px,544.49px) scaleX(1.0772) rotate(0.03deg);-webkit-text-stroke:0.3px #34a853;">0</span>
<span class="t dl" style="font-size:6.92px;color:#ff6d01;transform:translate(442.73px,544.49px) scaleX(1.0772) rotate(0.03deg);-webkit-text-stroke:0.3px #ff6d01;">0</span>
<span class="t dl" style="font-size:9.32px;color:#46bdc6;transform:translate(445.52px,540.51px) scaleX(1.0772) rotate(0.03deg);-webkit-text-stroke:0.3px #46bdc6;">0</span>
<span class="t dl" style="font-size:9.32px;color:#7baaf7;transform:translate(448.83px,535.30px) scaleX(1.0886) rotate(0.03deg);-webkit-text-stroke:0.3px #7baaf7;">1</span>
<span class="t dl" style="font-size:9.32px;color:#f07b72;transform:translate(452.54px,540.51px) scaleX(1.0772) rotate(0.03deg);-webkit-text-stroke:0.3px #f07b72;">0</span>
<span class="t" style="font-size:8.72px;color:#ffffff;transform:translate(427.55px,563.42px) scaleX(0.9486) rotate(0.03deg);-webkit-text-stroke:0.12px #ffffff;">SL Naval</span>
<span class="t" style="font-size:8.72px;color:#ffffff;transform:translate(432.17px,573.52px) scaleX(0.9496) rotate(0.03deg);-webkit-text-stroke:0.12px #ffffff;">Vessel</span>
<span class="t dl" style="font-size:6.92px;color:#4285f4;transform:translate(476.05px,544.49px) scaleX(1.0772) rotate(0.03deg);-webkit-text-stroke:0.3px #4285f4;">0</span>
<span class="t dl" style="font-size:6.92px;color:#ea4335;transform:translate(479.56px,544.49px) scaleX(1.0772) rotate(0.03deg);-webkit-text-stroke:0.3px #ea4335;">0</span>
<span class="t dl" style="font-size:6.92px;color:#fbbc04;transform:translate(483.07px,544.49px) scaleX(1.0772) rotate(0.03deg);-webkit-text-stroke:0.3px #fbbc04;">0</span>
<span class="t dl" style="font-size:6.92px;color:#34a853;transform:translate(486.43px,539.28px) scaleX(1.0886) rotate(0.03deg);-webkit-text-stroke:0.3px #34a853;">1</span>
<span class="t dl" style="font-size:6.92px;color:#ff6d01;transform:translate(490.18px,518.44px) scaleX(1.0233) rotate(0.03deg);-webkit-text-stroke:0.3px #ff6d01;">5</span>
<span class="t dl" style="font-size:9.32px;color:#46bdc6;transform:translate(492.94px,530.09px) scaleX(1.0660) rotate(0.03deg);-webkit-text-stroke:0.3px #46bdc6;">2</span>
<span class="t dl" style="font-size:9.32px;color:#7baaf7;transform:translate(496.19px,535.30px) scaleX(1.0886) rotate(0.03deg);-webkit-text-stroke:0.3px #7baaf7;">1</span>
<span class="t dl" style="font-size:9.32px;color:#f07b72;transform:translate(499.70px,535.30px) scaleX(1.0886) rotate(0.03deg);-webkit-text-stroke:0.3px #f07b72;">1</span>
<span class="t" style="font-size:8.72px;color:#ffffff;transform:translate(481.05px,563.42px) scaleX(0.9454) rotate(0.03deg);-webkit-text-stroke:0.12px #ffffff;">Other</span>
<span class="t" style="font-size:8.72px;color:#ffffff;transform:translate(477.28px,573.52px) scaleX(0.9386) rotate(0.03deg);-webkit-text-stroke:0.12px #ffffff;">Vessels</span>
<span class="t dl" style="font-size:6.92px;color:#4285f4;transform:translate(523.41px,544.49px) scaleX(1.0772) rotate(0.03deg);-webkit-text-stroke:0.3px #4285f4;">0</span>
<span class="t dl" style="font-size:6.92px;color:#ea4335;transform:translate(526.92px,544.49px) scaleX(1.0772) rotate(0.03deg);-webkit-text-stroke:0.3px #ea4335;">0</span>
<span class="t dl" style="font-size:6.92px;color:#fbbc04;transform:translate(530.43px,544.49px) scaleX(1.0772) rotate(0.03deg);-webkit-text-stroke:0.3px #fbbc04;">0</span>
<span class="t dl" style="font-size:6.92px;color:#34a853;transform:translate(533.79px,539.28px) scaleX(1.0886) rotate(0.03deg);-webkit-text-stroke:0.3px #34a853;">1</span>
<span class="t dl" style="font-size:6.92px;color:#ff6d01;transform:translate(537.30px,539.28px) scaleX(1.0886) rotate(0.03deg);-webkit-text-stroke:0.3px #ff6d01;">1</span>
<span class="t dl" style="font-size:9.32px;color:#46bdc6;transform:translate(540.04px,535.30px) scaleX(1.0886) rotate(0.03deg);-webkit-text-stroke:0.3px #46bdc6;">1</span>
<span class="t dl" style="font-size:9.32px;color:#7baaf7;transform:translate(543.81px,530.09px) scaleX(1.0660) rotate(0.03deg);-webkit-text-stroke:0.3px #7baaf7;">2</span>
<span class="t dl" style="font-size:9.32px;color:#f07b72;transform:translate(547.06px,535.30px) scaleX(1.0886) rotate(0.03deg);-webkit-text-stroke:0.3px #f07b72;">1</span>
<span class="t" style="font-size:8.72px;color:#ffffff;transform:translate(524.94px,563.42px) scaleX(0.9366) rotate(0.03deg);-webkit-text-stroke:0.12px #ffffff;">Aircraft</span>
<span class="t" style="font-size:8.76px;color:#ffffff;transform:translate(165.90px,554.09px) scaleX(1.1299) rotate(0.03deg);-webkit-text-stroke:0.3px #ffffff;">0</span>
<span class="t" style="font-size:8.76px;color:#ffffff;transform:translate(166.02px,528.04px) scaleX(1.0734) rotate(0.03deg);-webkit-text-stroke:0.3px #ffffff;">5</span>
<span class="t" style="font-size:8.76px;color:#ffffff;transform:translate(160.41px,501.99px) scaleX(1.1306) rotate(0.03deg);-webkit-text-stroke:0.3px #ffffff;">10</span>
<span class="t" style="font-size:8.76px;color:#ffffff;transform:translate(160.41px,475.94px) scaleX(1.1141) rotate(0.03deg);-webkit-text-stroke:0.3px #ffffff;">15</span>
<span class="t" style="font-size:8.76px;color:#ffffff;transform:translate(160.66px,449.89px) scaleX(1.1033) rotate(0.03deg);-webkit-text-stroke:0.3px #ffffff;">20</span>
<span class="t" style="font-size:8.90px;color:#ffffff;transform:translate(179.18px,598.47px) scaleX(1.0193) rotate(0.03deg);-webkit-text-stroke:0.3px #ffffff;">2017</span>
<span class="t" style="font-size:8.90px;color:#ffffff;transform:translate(224.78px,598.47px) scaleX(1.0146) rotate(0.03deg);-webkit-text-stroke:0.3px #ffffff;">2018</span>
<span class="t" style="font-size:8.90px;color:#ffffff;transform:translate(270.38px,598.47px) scaleX(1.0169) rotate(0.03deg);-webkit-text-stroke:0.3px #ffffff;">2019</span>
<span class="t" style="font-size:8.90px;color:#ffffff;transform:translate(315.98px,598.47px) scaleX(1.0193) rotate(0.03deg);-webkit-text-stroke:0.3px #ffffff;">2020</span>
<span class="t" style="font-size:8.90px;color:#ffffff;transform:translate(361.58px,598.47px) scaleX(1.0122) rotate(0.03deg);-webkit-text-stroke:0.3px #ffffff;">2021</span>
<span class="t" style="font-size:8.90px;color:#ffffff;transform:translate(407.18px,598.47px) scaleX(1.0193) rotate(0.03deg);-webkit-text-stroke:0.3px #ffffff;">2022</span>
<span class="t" style="font-size:8.90px;color:#ffffff;transform:translate(452.78px,598.47px) scaleX(1.0169) rotate(0.03deg);-webkit-text-stroke:0.3px #ffffff;">2023</span>
<span class="t" style="font-size:8.90px;color:#ffffff;transform:translate(498.39px,598.47px) scaleX(1.0029) rotate(0.03deg);-webkit-text-stroke:0.3px #ffffff;">2024</span>
<span class="t" style="font-size:8.90px;color:#ffffff;transform:translate(543.98px,598.47px) scaleX(1.0122) rotate(0.03deg);-webkit-text-stroke:0.3px #ffffff;">2025</span>
<span class="t" style="font-size:9.32px;color:#ffffff;transform:translate(150.49px,733.91px) scaleX(0.9580) rotate(0.03deg);-webkit-text-stroke:0.3px #ffffff;">2017</span>
<span class="t" style="font-size:9.04px;color:#ffffff;transform:translate(184.64px,734.15px) scaleX(0.9590) rotate(0.03deg);-webkit-text-stroke:0.3px #ffffff;">Rs 780,090.49</span>
<span class="t" style="font-size:9.32px;color:#ffffff;transform:translate(150.49px,745.01px) scaleX(0.9535) rotate(0.03deg);-webkit-text-stroke:0.3px #ffffff;">2018</span>
<span class="t" style="font-size:9.04px;color:#ffffff;transform:translate(213.44px,745.25px) scaleX(0.9547) rotate(0.03deg);-webkit-text-stroke:0.3px #ffffff;">Rs 26,770,300.37</span>
<span class="t" style="font-size:9.32px;color:#ffffff;transform:translate(150.49px,756.11px) scaleX(0.9557) rotate(0.03deg);-webkit-text-stroke:0.3px #ffffff;">2019</span>
<span class="t" style="font-size:9.04px;color:#ffffff;transform:translate(190.44px,756.35px) scaleX(0.9560) rotate(0.03deg);-webkit-text-stroke:0.3px #ffffff;">Rs 6,017,631.22</span>
<span class="t" style="font-size:9.32px;color:#ffffff;transform:translate(150.49px,767.21px) scaleX(0.9580) rotate(0.03deg);-webkit-text-stroke:0.3px #ffffff;">2020</span>
<span class="t" style="font-size:9.04px;color:#ffffff;transform:translate(483.33px,767.45px) scaleX(0.9681) rotate(0.03deg);-webkit-text-stroke:0.3px #ffffff;">Rs 271,026,177.98</span>
<span class="t" style="font-size:9.32px;color:#ffffff;transform:translate(150.49px,778.31px) scaleX(0.9513) rotate(0.03deg);-webkit-text-stroke:0.3px #ffffff;">2021</span>
<span class="t" style="font-size:9.04px;color:#ffffff;transform:translate(185.74px,778.55px) scaleX(0.9554) rotate(0.03deg);-webkit-text-stroke:0.3px #ffffff;">Rs 1,980,652.63</span>
<span class="t" style="font-size:9.32px;color:#ffffff;transform:translate(150.49px,789.41px) scaleX(0.9580) rotate(0.03deg);-webkit-text-stroke:0.3px #ffffff;">2022</span>
<span class="t" style="font-size:9.04px;color:#ffffff;transform:translate(205.03px,789.65px) scaleX(0.9645) rotate(0.03deg);-webkit-text-stroke:0.3px #ffffff;">Rs 19,316,750.00</span>
<span class="t" style="font-size:9.32px;color:#ffffff;transform:translate(150.49px,800.51px) scaleX(0.9557) rotate(0.03deg);-webkit-text-stroke:0.3px #ffffff;">2023</span>
<span class="t" style="font-size:9.04px;color:#ffffff;transform:translate(185.74px,800.75px) scaleX(0.9508) rotate(0.03deg);-webkit-text-stroke:0.3px #ffffff;">Rs 1,761,916.66</span>
<span class="t" style="font-size:9.32px;color:#ffffff;transform:translate(150.49px,811.61px) scaleX(0.9426) rotate(0.03deg);-webkit-text-stroke:0.3px #ffffff;">2024</span>
<span class="t" style="font-size:9.04px;color:#ffffff;transform:translate(249.44px,811.85px) scaleX(0.9493) rotate(0.03deg);-webkit-text-stroke:0.3px #ffffff;">Rs 37,851,60.69</span>
<span class="t" style="font-size:9.32px;color:#ffffff;transform:translate(150.49px,822.71px) scaleX(0.9513) rotate(0.03deg);-webkit-text-stroke:0.3px #ffffff;">2025</span>
<span class="t" style="font-size:7.34px;color:#ffffff;transform:translate(161.90px,838.78px) scaleX(1.0387) rotate(0.03deg);-webkit-text-stroke:0.3px #ffffff;">Rs 0.00</span>
<span class="t" style="font-size:7.34px;color:#ffffff;transform:translate(254.21px,838.78px) scaleX(1.0325) rotate(0.03deg);-webkit-text-stroke:0.3px #ffffff;">Rs 100,000,000.00</span>
<span class="t" style="font-size:7.34px;color:#ffffff;transform:translate(364.50px,838.78px) scaleX(1.0455) rotate(0.03deg);-webkit-text-stroke:0.3px #ffffff;">Rs 200,000,000.00</span>
<span class="t" style="font-size:7.34px;color:#ffffff;transform:translate(475.20px,838.78px) scaleX(1.0422) rotate(0.03deg);-webkit-text-stroke:0.3px #ffffff;">Rs 300,000,000.00</span>
<div class="b" style="left:606.3px;top:0;width:3px;height:859px;background:#333;"></div>
<div class="b" style="left:0;top:854.8px;width:609px;height:5px;background:#333;"></div>
</body></html>
